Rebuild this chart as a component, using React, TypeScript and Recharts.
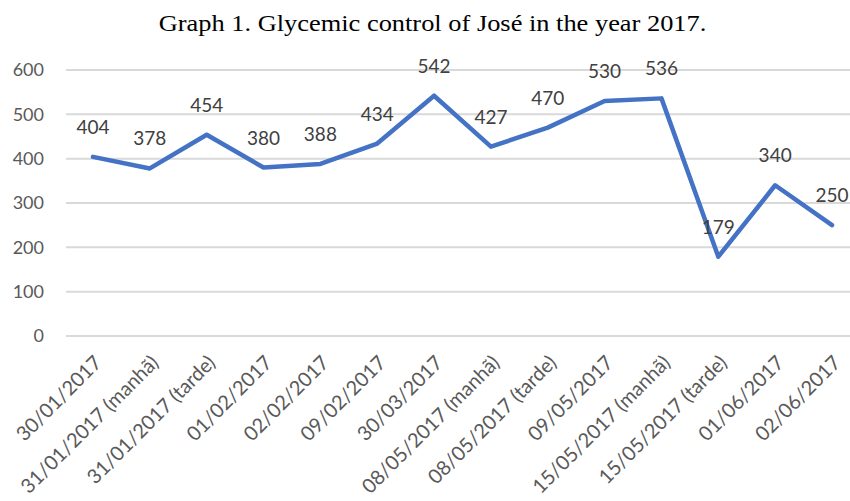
import { LineChart, Line, XAxis, YAxis, CartesianGrid, LabelList } from 'recharts';

const categories = [
    '30/01/2017',
    '31/01/2017 (manhã)',
    '31/01/2017 (tarde)',
    '01/02/2017',
    '02/02/2017',
    '09/02/2017',
    '30/03/2017',
    '08/05/2017 (manhã)',
    '08/05/2017 (tarde)',
    '09/05/2017',
    '15/05/2017 (manhã)',
    '15/05/2017 (tarde)',
    '01/06/2017',
    '02/06/2017',
];

const glycemia = [404, 378, 454, 380, 388, 434, 542, 427, 470, 530, 536, 179, 340, 250];

const yTicks = [0, 100, 200, 300, 400, 500, 600];

const chartData = categories.map((date, i) => ({ date, value: glycemia[i] }));

function AngledTick(props: any) {
    const { x, y, payload } = props;
    return (
        <g transform={`translate(${x + 5},${y + 15}) rotate(-45)`}>
            <text x={0} y={0} dy="0.35em" textAnchor="end" fill="#595959" fontSize={20} fontFamily="Lato">
                {payload.value}
            </text>
        </g>
    );
}

export default function App() {
    return (
        <div style={{ position: 'absolute', top: 0, left: 0, width: 850, height: 501, background: '#fff', overflow: 'hidden' }}>
            <div
                style={{
                    position: 'absolute',
                    top: 10,
                    left: 0,
                    width: 865,
                    textAlign: 'center',
                    fontFamily: '"Liberation Serif", serif',
                    fontSize: 24,
                    color: '#000',
                    transform: 'scaleX(1.1)',
                    transformOrigin: '432px 0',
                }}
            >
                Graph 1. Glycemic control of José in the year 2017.
            </div>
            <LineChart width={850} height={501} data={chartData} margin={{ top: 70, right: 0, bottom: 0, left: 0 }}>
                <CartesianGrid vertical={false} stroke="#d9d9d9" strokeWidth={2} />
                <XAxis
                    dataKey="date"
                    interval={0}
                    axisLine={false}
                    tickLine={false}
                    height={165}
                    padding={{ left: 27, right: 18 }}
                    tick={<AngledTick />}
                />
                <YAxis
                    domain={[0, 600]}
                    ticks={yTicks}
                    width={66}
                    axisLine={false}
                    tickLine={false}
                    tickSize={0}
                    tickMargin={22}
                    tick={{ fill: '#595959', fontSize: 18, fontFamily: 'Lato' }}
                />
                <Line
                    type="linear"
                    dataKey="value"
                    stroke="#4472c4"
                    strokeWidth={4.5}
                    strokeLinecap="round"
                    strokeLinejoin="round"
                    dot={false}
                    activeDot={false}
                    isAnimationActive={false}
                >
                    <LabelList dataKey="value" position="top" offset={23} fill="#404040" fontSize={19} fontFamily="Lato" />
                </Line>
            </LineChart>
        </div>
    );
}
